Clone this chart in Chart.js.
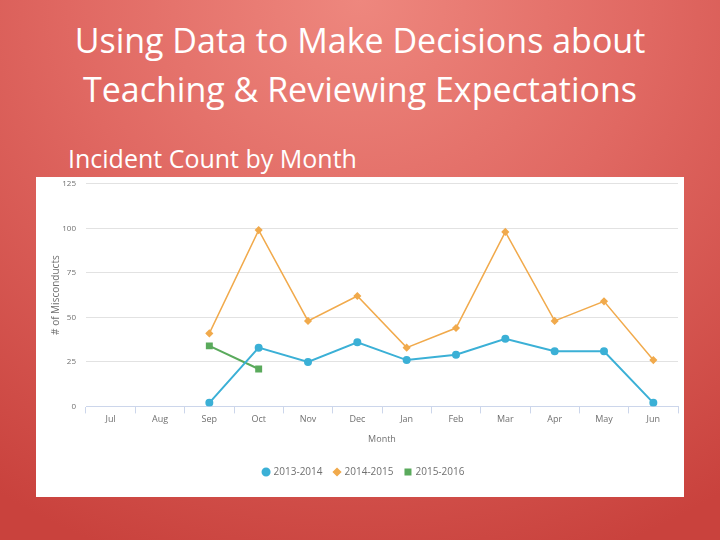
<!DOCTYPE html>
<html>
<head>
<meta charset="utf-8">
<script src="https://cdn.jsdelivr.net/npm/chart.js@4/dist/chart.umd.min.js"></script>
<style>
  html, body { margin: 0; padding: 0; }
  body {
    width: 720px; height: 540px; overflow: hidden; position: relative;
    background: radial-gradient(ellipse 90% 110% at 50% 0%, #ee877e 0%, #e06862 45%, #c9423d 100%);
    font-family: "Open Sans", "Noto Sans", sans-serif;
    color: #fff;
  }
  h1 {
    position: absolute; left: 0; top: 16px; width: 720px; margin: 0;
    text-align: center; font-weight: 400; font-size: 34px; line-height: 49px;
  }
  h2 {
    position: absolute; left: 68px; top: 142px; margin: 0;
    font-weight: 400; font-size: 25px; line-height: 32px;
  }
  .box {
    position: absolute; left: 36px; top: 177px; width: 648px; height: 320px;
    background: #fff; overflow: hidden;
  }
  .box canvas { position: absolute; left: 0; top: -8px; }
</style>
</head>
<body>
<h1>Using Data to Make Decisions about<br>Teaching &amp; Reviewing Expectations</h1>
<h2>Incident Count by Month</h2>
<div class="box"><canvas id="c" width="648" height="328"></canvas></div>
<script>
var months = ['Jul', 'Aug', 'Sep', 'Oct', 'Nov', 'Dec', 'Jan', 'Feb', 'Mar', 'Apr', 'May', 'Jun'];
var y2013 = [null, null, 2, 33, 25, 36, 26, 29, 38, 31, 31, 2];
var y2014 = [null, null, 41, 99, 48, 62, 33, 44, 98, 48, 59, 26];
var y2015 = [null, null, 34, 21, null, null, null, null, null, null, null, null];
var yTicks = [0, 25, 50, 75, 100, 125];

var grey = '#707070';

new Chart(document.getElementById('c'), {
  type: 'line',
  data: {
    labels: months,
    datasets: [
      { label: '2013-2014', data: y2013, borderColor: '#3bb0d6', backgroundColor: '#3bb0d6',
        borderWidth: 2, pointStyle: 'circle', pointRadius: 3 },
      { label: '2014-2015', data: y2014, borderColor: '#f1aa4c', backgroundColor: '#f1aa4c',
        borderWidth: 1.5, pointStyle: 'rectRot', pointRadius: 3 },
      { label: '2015-2016', data: y2015, borderColor: '#5aaa5c', backgroundColor: '#5aaa5c',
        borderWidth: 2, pointStyle: 'rect', pointRadius: 3.5 }
    ]
  },
  options: {
    responsive: false,
    animation: false,
    layout: { padding: { top: 2, right: 6, bottom: 10, left: 14 } },
    plugins: {
      legend: {
        position: 'bottom',
        labels: { usePointStyle: true, boxWidth: 5, boxHeight: 5, padding: 12,
          color: grey, font: { family: 'Open Sans', size: 10 } }
      },
      tooltip: { enabled: false }
    },
    scales: {
      x: {
        offset: true,
        grid: { offset: true, drawOnChartArea: false, drawTicks: true, tickLength: 7, color: '#ccd6eb' },
        border: { color: '#ccd6eb' },
        ticks: { color: grey, font: { family: 'Open Sans', size: 9 }, padding: 1, maxRotation: 0 },
        title: { display: true, text: 'Month', color: grey, font: { family: 'Open Sans', size: 9 }, padding: { top: 8, bottom: 10 } }
      },
      y: {
        min: 0, max: 125,
        afterBuildTicks: function (s) { s.ticks = yTicks.map(function (v) { return { value: v }; }); },
        afterFit: function (s) { s.width = 36; },
        grid: { color: '#e2e2e2', drawTicks: false },
        border: { display: false },
        ticks: { color: grey, font: { family: 'Open Sans', size: 8 }, padding: 10 },
        title: { display: true, text: '# of Misconducts', color: grey, font: { family: 'Open Sans', size: 10 }, padding: 0 }
      }
    }
  }
});
</script>
</body>
</html>
